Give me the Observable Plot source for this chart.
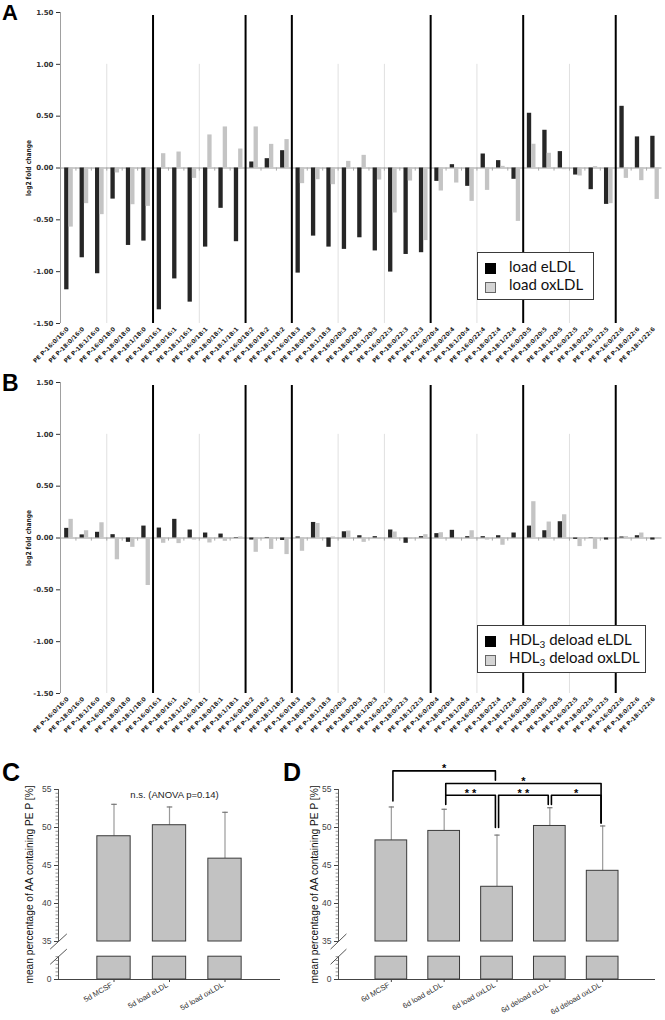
<!DOCTYPE html>
<html><head><meta charset="utf-8">
<script src="https://cdn.jsdelivr.net/npm/d3@7"></script>
<script src="https://cdn.jsdelivr.net/npm/@observablehq/plot@0.6"></script>
<style>
body{margin:0;background:#fff;}
#root{position:relative;width:665px;height:1020px;overflow:hidden;background:#fff;}
.panel{position:absolute;}
.panel svg{overflow:visible;}
.plabel{position:absolute;font-family:"Liberation Sans",Arial,sans-serif;font-weight:bold;line-height:1;color:#000;}
.legend{position:absolute;background:#fff;border:1px solid #3a3a3a;font-family:Lato,"Open Sans",sans-serif;font-size:15px;color:#111;box-sizing:border-box;}
.legend .row{position:absolute;white-space:nowrap;line-height:18px;}
.legend sub{font-size:10px;vertical-align:-3px;line-height:0;}
.sw{position:absolute;width:11px;height:11px;box-sizing:border-box;}
</style></head>
<body><div id="root"></div>
<script>
// ---------- data ----------
const cats = ["PE P-16:0/16:0","PE P-18:0/16:0","PE P-18:1/16:0","PE P-16:0/18:0","PE P-18:0/18:0","PE P-18:1/18:0",
"PE P-16:0/16:1","PE P-18:0/16:1","PE P-18:1/16:1","PE P-16:0/18:1","PE P-18:0/18:1","PE P-18:1/18:1",
"PE P-16:0/18:2","PE P-18:0/18:2","PE P-18:1/18:2","PE P-16:0/18:3","PE P-18:0/18:3","PE P-18:1/18:3",
"PE P-16:0/20:3","PE P-18:0/20:3","PE P-18:1/20:3","PE P-16:0/22:3","PE P-18:0/22:3","PE P-18:1/22:3",
"PE P-16:0/20:4","PE P-18:0/20:4","PE P-18:1/20:4","PE P-16:0/22:4","PE P-18:0/22:4","PE P-18:1/22:4",
"PE P-16:0/20:5","PE P-18:0/20:5","PE P-18:1/20:5","PE P-16:0/22:5","PE P-18:0/22:5","PE P-18:1/22:5",
"PE P-16:0/22:6","PE P-18:0/22:6","PE P-18:1/22:6"];
const loadEldl = [-1.175,-0.866,-1.02,-0.30,-0.747,-0.705,-1.368,-1.07,-1.294,-0.763,-0.389,-0.711,0.058,0.09,0.167,-1.014,-0.657,-0.763,-0.785,-0.673,-0.80,-1.004,-0.834,-0.817,-0.129,0.032,-0.177,0.135,0.071,-0.109,0.528,0.364,0.158,-0.068,-0.209,-0.351,0.595,0.30,0.306];
const loadOxldl = [-0.57,-0.344,-0.45,-0.048,-0.354,-0.37,0.138,0.154,-0.10,0.319,0.396,0.183,0.396,0.228,0.274,-0.151,-0.113,-0.161,0.064,0.122,-0.116,-0.434,-0.126,-0.70,-0.222,-0.145,-0.322,-0.216,0.016,-0.515,0.229,0.142,-0.016,-0.077,0.013,-0.344,-0.10,-0.122,-0.303];
const deloadEldl = [0.093,0.03,0.055,0.032,-0.042,0.115,0.096,0.18,0.077,0.048,0.038,-0.005,-0.02,0.005,-0.024,0.01,0.15,-0.09,0.06,0.022,0.013,0.077,-0.051,0.013,0.042,0.074,0.013,0.013,0.022,0.048,0.115,0.07,0.157,-0.013,0.003,-0.02,0.01,0.022,-0.02];
const deloadOxldl = [0.18,0.07,0.147,-0.21,-0.09,-0.458,-0.051,-0.054,-0.02,-0.048,-0.032,0.01,-0.138,-0.11,-0.16,-0.128,0.14,0.01,0.067,-0.042,-0.01,0.058,-0.01,0.032,0.051,0.003,0.07,-0.02,-0.07,0.003,0.35,0.154,0.224,-0.083,-0.109,-0.016,0.013,0.048,0.003];
const foldTicks = [-1.5,-1.0,-0.5,0,0.5,1.0,1.5];
const thinBreaks = [3,9,18,21,27,33];     // category boundaries (light)
const thickBreaks = [6,12,15,24,30,36];   // category boundaries (bold)

const cLabels = ["5d MCSF","5d load eLDL","5d load oxLDL"];
const cMeans = [48.85,50.3,45.9];
const cSD = [4.2,2.4,6.1];
const dLabels = ["6d MCSF","6d load eLDL","6d load oxLDL","6d deload eLDL","6d deload oxLDL"];
const dMeans = [48.3,49.55,42.2,50.2,44.3];
const dSD = [4.4,2.85,6.8,2.4,5.9];
// significance brackets in panel D (categories 1-based, heights in %)
const dBrackets = [
  {a:1,b:3,top:57.45,ya:53.5,yb:56.22,label:"*"},
  {a:2,b:5,top:55.79,ya:54.25,yb:50.6,label:"*"},
  {a:2,b:3,top:54.25,ya:53.03,yb:50.0,label:"* *"},
  {a:3,b:4,top:54.25,ya:50.0,yb:53.03,label:"* *"},
  {a:4,b:5,top:54.25,ya:53.03,yb:50.6,label:"*"}
];
const pctTicks = [0,35,40,45,50,55];
const yTitle = "mean percentage of AA containing PE P [%]";
const foldTitle = "log2 fold change";
const cNote = "n.s. (ANOVA p=0.14)";

// ---------- layout helpers ----------
const root = document.getElementById("root");
function place(node, left, top){const d=document.createElement("div");d.className="panel";d.style.left=left+"px";d.style.top=top+"px";d.appendChild(node);root.appendChild(d);}
function label(t,left,top,size){const d=document.createElement("div");d.className="plabel";d.textContent=t;d.style.left=left+"px";d.style.top=top+"px";d.style.fontSize=size+"px";root.appendChild(d);}
function fitText(svg, str, len){
  svg.querySelectorAll("text").forEach(t => { if (t.textContent === str) { t.setAttribute("textLength", len); t.setAttribute("lengthAdjust", "spacingAndGlyphs"); } });
  return svg;
}
function legend(left,top,w,h,items){
  const b=document.createElement("div");b.className="legend";
  Object.assign(b.style,{left:left+"px",top:top+"px",width:w+"px",height:h+"px"});
  items.forEach((it,k)=>{
    const s=document.createElement("div");s.className="sw";
    Object.assign(s.style,{left:"7px",top:(10+k*19)+"px",background:it.color,border:"1px solid "+it.border});
    b.appendChild(s);
    const r=document.createElement("div");r.className="row";
    Object.assign(r.style,{left:"31px",top:(4+k*18)+"px"});
    r.innerHTML=it.html;b.appendChild(r);
  });
  root.appendChild(b);
}

// ---------- fold change panels ----------
function foldPanel(eVals, oVals){
  const n = cats.length, idx = d3.range(n);
  const svg = Plot.plot({
    width: 665, height: 370,
    marginLeft: 60, marginRight: 3.5, marginTop: 12, marginBottom: 47,
    x: {domain: [0, n], axis: null},
    y: {domain: [-1.5, 1.5], ticks: foldTicks, tickFormat: d => d.toFixed(2), tickSize: 4, tickPadding: 3, label: null},
    style: {fontFamily: "'DejaVu Sans', Verdana, sans-serif", fontSize: "7px", fontWeight: "bold", color: "#333", background: "transparent"},
    marks: [
      Plot.ruleX(thinBreaks, {x: d => d, y1: -1.5, y2: 1.0, stroke: "#e0e0e0"}),
      Plot.ruleY([0], {x1: 0, x2: n, stroke: "#9a9a9a"}),
      Plot.ruleX(d3.range(1, n), {x: d => d, y1: 0, y2: -0.03, stroke: "#aaa"}),
      Plot.rectY(idx, {x1: i => i + 0.27, x2: i => i + 0.55, y1: 0, y2: i => eVals[i], fill: "#262626"}),
      Plot.rectY(idx, {x1: i => i + 0.55, x2: i => i + 0.83, y1: 0, y2: i => oVals[i], fill: "#c4c4c4"}),
      Plot.ruleX(thickBreaks, {x: d => d, y1: -1.5, y2: 1.47, stroke: "#000", strokeWidth: 2}),
      Plot.ruleX([0], {y1: -1.5, y2: 1.5, stroke: "#a0a0a0"}),
      Plot.text(idx, {x: i => i + 0.5, frameAnchor: "bottom", text: i => cats[i], rotate: -45, textAnchor: "end", dy: 6, dx: 1, fontSize: 5.8, fill: "#222"}),
      Plot.text([foldTitle], {frameAnchor: "left", textAnchor: "middle", rotate: -90, dx: -32, fontSize: 7, fill: "#222"})
    ]
  });
  return fitText(svg, foldTitle, 56);
}

// ---------- percentage panels (broken axis: 0 drawn at 30) ----------
function pctPanel(labels, means, sds, o){
  const n = labels.length, idx = d3.range(n);
  const minor = d3.range(30, 55.01, 0.5).filter(v => (v <= 33 || v >= 35) && v % 5 !== 0);
  const marks = [
    Plot.ruleX([0], {y1: 35, y2: 55, stroke: "#555"}),
    Plot.ruleX([0], {y1: 30, y2: 33, stroke: "#555"}),
    Plot.ruleY(minor, {y: d => d, x1: -0.045, x2: 0, stroke: "#777", strokeWidth: 0.8}),
    Plot.link([33, 35], {x1: -0.15, x2: 0.15, y1: v => v - 1, y2: v => v + 1, stroke: "#555"}),
    Plot.ruleY([30], {x1: 0, x2: n + 1, stroke: "#444"}),
    Plot.ruleX(idx, {x: i => i + 1, y1: i => means[i], y2: i => means[i] + sds[i], stroke: "#9a9a9a", strokeWidth: 1.2}),
    Plot.link(idx, {x1: i => i + 1 - 0.05, x2: i => i + 1 + 0.05, y1: i => means[i] + sds[i], y2: i => means[i] + sds[i], stroke: "#777", strokeWidth: 1.2}),
    Plot.rectY(idx, {x1: i => i + 0.7, x2: i => i + 1.3, y1: 35, y2: i => means[i], fill: "#c2c2c2", stroke: "#3a3a3a"}),
    Plot.rectY(idx, {x1: i => i + 0.7, x2: i => i + 1.3, y1: 30, y2: 33, fill: "#c2c2c2", stroke: "#3a3a3a"}),
    Plot.text(idx, {x: i => i + 1, frameAnchor: "bottom", text: i => labels[i], rotate: -30, textAnchor: "end", dy: 7, dx: -1, fontSize: 7.5, fill: "#333"}),
    Plot.text([yTitle], {frameAnchor: "left", textAnchor: "middle", rotate: -90, dx: o.titleDx, fontSize: 10.5, fill: "#111"})
  ];
  if (o.note) marks.push(Plot.text([o.note], {x: (n + 1) / 2, frameAnchor: "top", dx: 5, dy: 2, fontSize: 9.5, fill: "#222"}));
  if (o.brackets) {
    const pts = [];
    o.brackets.forEach((b, k) => {
      const l = b.a + 0.03, r = b.b - 0.03;
      pts.push({k, x: l, y: b.ya}, {k, x: l, y: b.top}, {k, x: r, y: b.top}, {k, x: r, y: b.yb});
    });
    marks.push(Plot.line(pts, {x: "x", y: "y", z: "k", stroke: "#000", strokeWidth: 1.6, curve: "linear"}));
    marks.push(Plot.text(o.brackets, {x: b => (b.a + b.b) / 2, y: "top", text: "label", dy: -2, fontSize: 11, fontWeight: "bold", fill: "#000"}));
  }
  const svg = Plot.plot({
    width: o.width, height: 280,
    marginLeft: o.ml, marginRight: 10, marginTop: 49, marginBottom: 41,
    x: {domain: [0, n + 1], ticks: idx.map(i => i + 1), tickFormat: () => "", tickSize: 3, label: null},
    y: {domain: [30, 55], ticks: pctTicks.map(v => v === 0 ? 30 : v), tickFormat: v => v === 30 ? "0" : String(v), tickSize: 4, tickPadding: 3, label: null},
    style: {fontFamily: "'Liberation Sans', Arial, sans-serif", fontSize: "8.5px", color: "#444", background: "transparent"},
    marks
  });
  return fitText(svg, yTitle, 198);
}

place(foldPanel(loadEldl, loadOxldl), 0, 0);
place(foldPanel(deloadEldl, deloadOxldl), 0, 370);
place(pctPanel(cLabels, cMeans, cSD, {width: 290, ml: 58, titleDx: -29, note: cNote}), 0, 740);
place(pctPanel(dLabels, dMeans, dSD, {width: 375, ml: 48, titleDx: -24, brackets: dBrackets}), 290, 740);

label("A", 2, 2, 22);
label("B", 2, 372, 23);
label("C", 2, 760, 25);
label("D", 283, 760, 25);

legend(477, 252, 117, 48, [
  {color: "#000", border: "#000", html: "load eLDL"},
  {color: "#d4d4d4", border: "#666", html: "load oxLDL"}
]);
legend(477, 625, 169, 48, [
  {color: "#000", border: "#000", html: "HDL<sub>3</sub> deload eLDL"},
  {color: "#d4d4d4", border: "#666", html: "HDL<sub>3</sub> deload oxLDL"}
]);
</script></body></html>
